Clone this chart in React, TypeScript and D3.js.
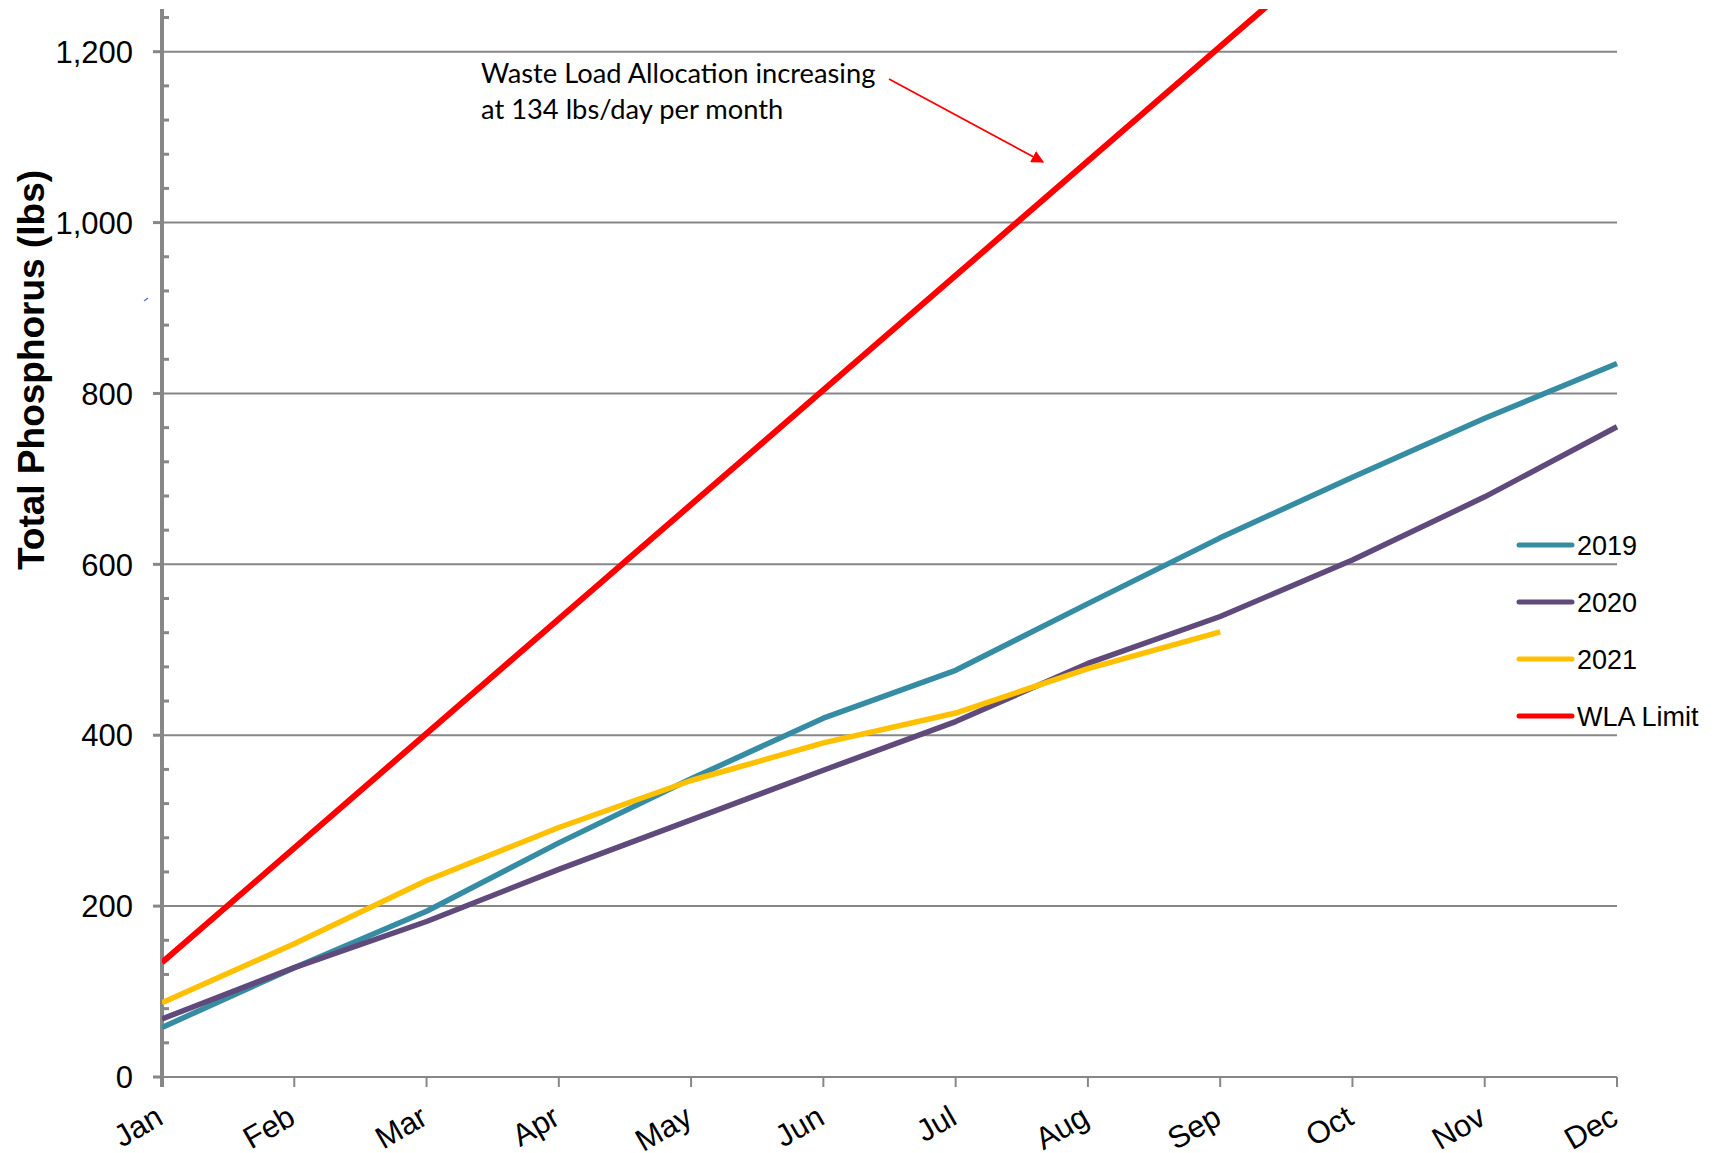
import React from "react";
import * as d3 from "d3";

const months = ["Jan", "Feb", "Mar", "Apr", "May", "Jun", "Jul", "Aug", "Sep", "Oct", "Nov", "Dec"];
const yTicks = [0, 200, 400, 600, 800, 1000, 1200];
const values2019 = [58, 128, 194, 274, 349, 420, 476, 554, 631, 702, 771, 835];
const values2020 = [68, 128, 182, 243, 301, 359, 416, 484, 539, 605, 679, 761];
const values2021 = [87, 156, 230, 292, 347, 391, 426, 478, 521];
const valuesWLA = [134, 268, 402, 536, 670, 804, 938, 1072, 1206, 1340, 1474, 1608];

const seriesNames = ["2019", "2020", "2021", "WLA Limit"];
const seriesColors = ["#368DA3", "#604A7B", "#FFC000", "#FF0000"];
const seriesData = [values2019, values2020, values2021, valuesWLA];
const annotationLines = ["Waste Load Allocation increasing", "at 134 lbs/day per month"];

const W = 1714;
const H = 1153;
const left = 162;
const right = 1617;
const bottom = 1077;
const yMax = 1250;

export default function App() {
  const x = d3.scalePoint<string>().domain(months).range([left, right]);
  const y = d3.scaleLinear().domain([0, yMax]).range([bottom, bottom - (yMax * (bottom - 51.7)) / 1200]);
  const line = d3
    .line<number>()
    .x((_, i) => x(months[i]) as number)
    .y((d) => y(d));
  const minorTicks = d3.range(0, 1241, 40).filter((v) => v % 200 !== 0);
  const grey = "#878787";

  return (
    <svg width={W} height={H} style={{ position: "absolute", left: 0, top: 0, background: "#fff" }}>
      <defs>
        <clipPath id="plot">
          <rect x={left} y={y(yMax)} width={right - left + 10} height={bottom - y(yMax)} />
        </clipPath>
        <marker id="arrow" viewBox="0 0 10 10" refX="9" refY="5" markerWidth="7" markerHeight="7" orient="auto" markerUnits="strokeWidth">
          <path d="M0,0 L10,5 L0,10 z" fill="#FF0000" />
        </marker>
      </defs>
      {yTicks.map((t) => (
        <line key={t} x1={left} x2={right} y1={y(t)} y2={y(t)} stroke={grey} strokeWidth={2} />
      ))}
      {months.map((m) => (
        <line key={m} x1={x(m)} x2={x(m)} y1={bottom} y2={bottom + 10} stroke={grey} strokeWidth={2} />
      ))}
      <line x1={left} x2={left} y1={y(yMax)} y2={bottom + 10} stroke={grey} strokeWidth={4} />
      {yTicks.map((t) => (
        <line key={"mt" + t} x1={left - 9} x2={left} y1={y(t)} y2={y(t)} stroke={grey} strokeWidth={3} />
      ))}
      {minorTicks.map((t) => (
        <line key={"mn" + t} x1={left} x2={left + 7} y1={y(t)} y2={y(t)} stroke={grey} strokeWidth={3} />
      ))}
      {yTicks.map((t) => (
        <text
          key={"l" + t}
          x={133}
          y={y(t)}
          dy="0.36em"
          textAnchor="end"
          fontFamily="'Liberation Sans', Arial, sans-serif"
          fontSize={31}
          fill="#000"
        >
          {d3.format(",")(t)}
        </text>
      ))}
      {months.map((m) => (
        <text
          key={"x" + m}
          transform={`translate(${(x(m) as number) + 3},${bottom + 46}) rotate(-30)`}
          textAnchor="end"
          fontFamily="'Liberation Sans', Arial, sans-serif"
          fontSize={31}
          fill="#000"
        >
          {m}
        </text>
      ))}
      <text
        transform={`translate(44,370) rotate(-90)`}
        textAnchor="middle"
        fontFamily="'Liberation Sans', Arial, sans-serif"
        fontWeight="bold"
        fontSize={37}
        fill="#000"
      >
        Total Phosphorus (lbs)
      </text>
      <g clipPath="url(#plot)">
        {seriesData.map((s, i) => (
          <path
            key={seriesNames[i]}
            d={line(s) || ""}
            fill="none"
            stroke={seriesColors[i]}
            strokeWidth={i === 3 ? 6 : 5.5}
            strokeLinejoin="round"
          />
        ))}
      </g>
      {seriesNames.map((n, i) => (
        <g key={"lg" + n} transform={`translate(0,${545 + i * 57})`}>
          <line x1={1519} x2={1572} y1={0} y2={0} stroke={seriesColors[i]} strokeWidth={5} strokeLinecap="round" />
          <text x={1577} y={0} dy="0.36em" fontFamily="'Liberation Sans', Arial, sans-serif" fontSize={27} fill="#000">
            {n}
          </text>
        </g>
      ))}
      {annotationLines.map((t, i) => (
        <text key={"a" + i} x={481} y={83 + i * 36} fontFamily="Lato, 'Open Sans', sans-serif" fontSize={27.3} fill="#000">
          {t}
        </text>
      ))}
      <line x1={889} y1={79} x2={1043} y2={162} stroke="#FF0000" strokeWidth={1.8} markerEnd="url(#arrow)" />
      <line x1={144} y1={301} x2={148} y2={298} stroke="#4472C4" strokeWidth={1.2} />
    </svg>
  );
}
